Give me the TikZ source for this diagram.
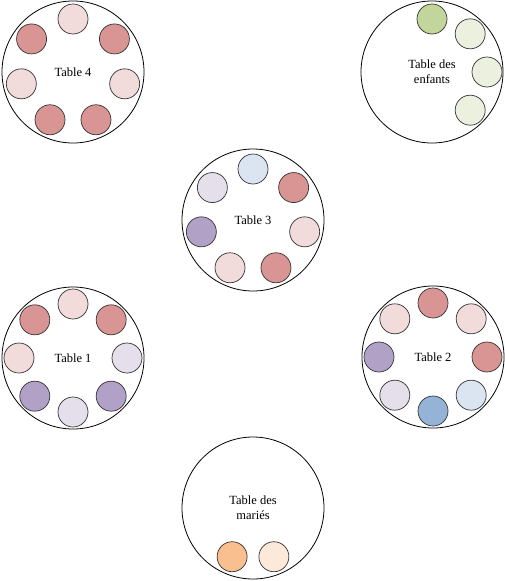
\documentclass[tikz,border=0pt]{standalone}
\usepackage{fontspec}
\setmainfont{Liberation Serif}
\definecolor{dpink}{HTML}{D99594}
\definecolor{lpink}{HTML}{F2DBDB}
\definecolor{dpurple}{HTML}{B2A1C7}
\definecolor{lpurple}{HTML}{E5DFEC}
\definecolor{lblue}{HTML}{DBE5F1}
\definecolor{mblue}{HTML}{95B3D7}
\definecolor{dgreen}{HTML}{C2D69B}
\definecolor{lgreen}{HTML}{EBF1DE}
\definecolor{dorange}{HTML}{FABF8F}
\definecolor{lorange}{HTML}{FDE9D9}
\begin{document}
\begin{tikzpicture}[x=1pt,y=1pt,
  tbl/.style={circle,draw=black,line width=0.8pt,fill=white,minimum size=142pt,inner sep=0pt,align=center,font=\fontsize{12.5}{15}\selectfont},
  seat/.style={circle,draw=black!80,line width=0.7pt,fill=#1,minimum size=30pt,inner sep=0pt}]
\useasboundingbox (0,0) rectangle (505,-581);
\fill[white] (0,0) rectangle (505,-581);
% tables
\node[tbl] (t4) at (73,-72) {Table 4};
\node[tbl] (te) at (432,-72) {Table des\\enfants};
\node[tbl] (t3) at (253,-220) {Table 3};
\node[tbl] (t1) at (73,-358) {Table 1};
\node[tbl] (t2) at (433,-357) {Table 2};
\node[tbl] (tm) at (253,-508) {Table des\\mariés};
% Table 4
\node[seat=lpink] (t4a) at ([shift={(90:53)}]t4) {};
\node[seat=dpink] (t4b) at ([shift={(38.6:53)}]t4) {};
\node[seat=lpink] (t4c) at ([shift={(-12.9:53)}]t4) {};
\node[seat=dpink] (t4d) at ([shift={(-64.3:53)}]t4) {};
\node[seat=dpink] (t4e) at ([shift={(-115.7:53)}]t4) {};
\node[seat=lpink] (t4f) at ([shift={(-167.1:53)}]t4) {};
\node[seat=dpink] (t4g) at ([shift={(141.4:53)}]t4) {};
% Table 3
\node[seat=lblue] (t3a) at ([shift={(90:51)}]t3) {};
\node[seat=dpink] (t3b) at ([shift={(38.6:52)}]t3) {};
\node[seat=lpink] (t3c) at ([shift={(-12.9:53)}]t3) {};
\node[seat=dpink] (t3d) at ([shift={(-64.3:53)}]t3) {};
\node[seat=lpink] (t3e) at ([shift={(-115.7:53)}]t3) {};
\node[seat=dpurple] (t3f) at ([shift={(-167.1:53)}]t3) {};
\node[seat=lpurple] (t3g) at ([shift={(141.4:52)}]t3) {};
% Table 1
\node[seat=lpink] (t1a) at ([shift={(90:54)}]t1) {};
\node[seat=dpink] (t1b) at ([shift={(45:54)}]t1) {};
\node[seat=lpurple] (t1c) at ([shift={(0:54)}]t1) {};
\node[seat=dpurple] (t1d) at ([shift={(-45:54)}]t1) {};
\node[seat=lpurple] (t1e) at ([shift={(-90:54)}]t1) {};
\node[seat=dpurple] (t1f) at ([shift={(-135:54)}]t1) {};
\node[seat=lpink] (t1g) at ([shift={(180:54)}]t1) {};
\node[seat=dpink] (t1h) at ([shift={(135:54)}]t1) {};
% Table 2
\node[seat=dpink] (t2a) at ([shift={(90:54)}]t2) {};
\node[seat=lpink] (t2b) at ([shift={(45:54)}]t2) {};
\node[seat=dpink] (t2c) at ([shift={(0:54)}]t2) {};
\node[seat=lblue] (t2d) at ([shift={(-45:54)}]t2) {};
\node[seat=mblue] (t2e) at ([shift={(-90:54)}]t2) {};
\node[seat=lpurple] (t2f) at ([shift={(-135:54)}]t2) {};
\node[seat=dpurple] (t2g) at ([shift={(180:54)}]t2) {};
\node[seat=lpink] (t2h) at ([shift={(135:54)}]t2) {};
% Table des enfants
\node[seat=dgreen] (tea) at ([shift={(90:53)}]te) {};
\node[seat=lgreen] (teb) at ([shift={(45:54)}]te) {};
\node[seat=lgreen] (tec) at ([shift={(0:55)}]te) {};
\node[seat=lgreen] (ted) at ([shift={(-45:54)}]te) {};
% Table des mariés
\node[seat=dorange] (tma) at ([shift={(-113.2:53)}]tm) {};
\node[seat=lorange] (tmb) at ([shift={(-66.8:53)}]tm) {};
\end{tikzpicture}
\end{document}
